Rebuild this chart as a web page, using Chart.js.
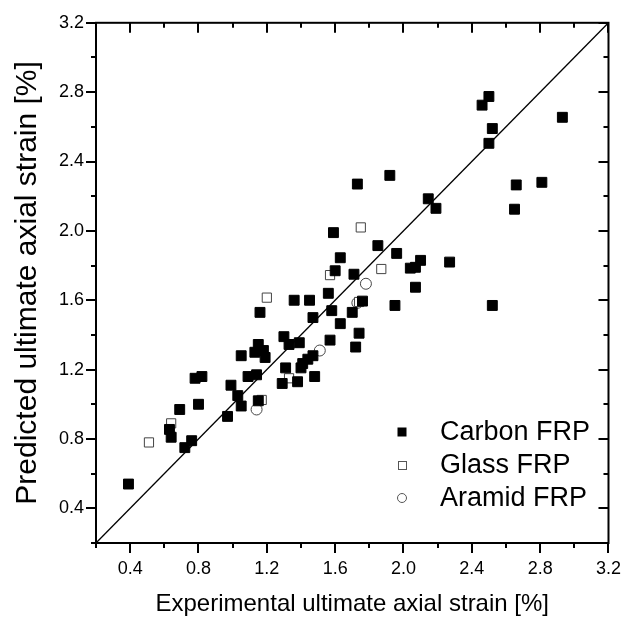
<!DOCTYPE html>
<html>
<head>
<meta charset="utf-8">
<script src="https://cdn.jsdelivr.net/npm/chart.js@4.4.1/dist/chart.umd.min.js"></script>
<style>
  html, body { margin: 0; padding: 0; background: #fff; }
</style>
</head>
<body>
<canvas id="strain-chart" width="636" height="626"></canvas>
<script>
// values (experimental vs predicted strain, %)
const carbonX = [0.39, 0.63, 0.64, 0.69, 0.72, 0.76, 0.78, 0.82, 0.80, 0.97,
                 0.99, 1.03, 1.05, 1.05, 1.09, 1.14, 1.15, 1.15, 1.13, 1.18,
                 1.19, 1.16, 1.30, 1.33, 1.39, 1.31, 1.29, 1.38, 1.36, 1.45,
                 1.47, 1.40, 1.41, 1.44, 1.47, 1.48, 1.56, 1.58, 1.63, 1.57,
                 1.70, 1.60, 1.71, 1.59, 1.63, 1.76, 1.95, 1.74, 1.72, 2.07,
                 2.52, 1.85, 1.96, 2.10, 2.07, 2.04, 2.27, 1.73, 1.92, 2.145,
                 2.19, 2.66, 2.81, 2.65, 2.50, 2.46, 2.52, 2.50, 2.93];
const carbonY = [0.54, 0.855, 0.81, 0.97, 0.75, 0.79, 1.15, 1.16, 1.00, 0.93,
                 1.11, 1.05, 0.99, 1.28, 1.16, 1.17, 1.02, 1.345, 1.30, 1.31,
                 1.27, 1.53, 1.39, 1.345, 1.355, 1.21, 1.12, 1.13, 1.60, 1.60,
                 1.50, 1.21, 1.235, 1.26, 1.28, 1.16, 1.64, 1.54, 1.465, 1.37,
                 1.53, 1.77, 1.75, 1.99, 1.845, 1.595, 1.57, 1.41, 1.33, 1.675,
                 1.57, 1.915, 1.87, 1.83, 1.79, 1.785, 1.82, 2.27, 2.32, 2.185,
                 2.13, 2.265, 2.28, 2.125, 2.775, 2.725, 2.59, 2.505, 2.655];

const glassX = [0.51, 0.64, 1.17, 1.20, 1.33, 1.57, 1.74, 1.87, 1.75];
const glassY = [0.78, 0.89, 1.025, 1.615, 1.15, 1.745, 1.59, 1.78, 2.02];

const aramidX = [1.14, 1.51, 1.78, 1.73];
const aramidY = [0.97, 1.31, 1.695, 1.585];

// line of equality
const diagX = [0.2, 3.2];
const diagY = [0.2, 3.2];

const axisMin = 0.2;
const axisMax = 3.2;
const tickStep = 0.2;
const tickLabels = ['0.4', '0.8', '1.2', '1.6', '2.0', '2.4', '2.8', '3.2'];

const seriesNames = ['Carbon FRP', 'Glass FRP', 'Aramid FRP'];

const fontFamily = 'Arial, "Liberation Sans", sans-serif';

function toPoints(xs, ys) {
    return xs.map((x, i) => ({ x: x, y: ys[i] }));
}

function tickLabel(value) {
    const s = Number(value).toFixed(1);
    return tickLabels.includes(s) ? s : '';
}

// box frame with ticks: outward on bottom/left, inward on top/right
const frameTicks = {
    id: 'frameTicks',
    afterDatasetsDraw(chart) {
        const { ctx, chartArea: a, scales } = chart;
        ctx.save();
        ctx.strokeStyle = '#000';
        ctx.lineWidth = 2;
        ctx.beginPath();
        scales.x.ticks.forEach(t => {
            const px = Math.round(scales.x.getPixelForValue(t.value));
            const len = tickLabel(t.value) ? 10 : 5;
            ctx.moveTo(px, a.bottom);
            ctx.lineTo(px, a.bottom + len);
            ctx.moveTo(px, a.top);
            ctx.lineTo(px, a.top + len);
        });
        scales.y.ticks.forEach(t => {
            const py = Math.round(scales.y.getPixelForValue(t.value));
            const len = tickLabel(t.value) ? 10 : 5;
            ctx.moveTo(a.left, py);
            ctx.lineTo(a.left - len, py);
            ctx.moveTo(a.right, py);
            ctx.lineTo(a.right - len, py);
        });
        ctx.stroke();
        ctx.strokeRect(a.left, a.top, a.right - a.left, a.bottom - a.top);
        ctx.restore();
    }
};

// legend inside the plot, bottom right
const innerLegend = {
    id: 'innerLegend',
    afterDraw(chart) {
        const ctx = chart.ctx;
        const mx = 402, tx = 440;
        const rows = [432, 465, 498];
        ctx.save();
        ctx.lineWidth = 1;
        ctx.fillStyle = '#000';
        ctx.fillRect(mx - 4.5, rows[0] - 4.5, 9, 9);
        ctx.strokeStyle = '#555';
        ctx.strokeRect(mx - 3.5, rows[1] - 3.5, 8, 8);
        ctx.beginPath();
        ctx.arc(mx, rows[2], 4.5, 0, Math.PI * 2);
        ctx.stroke();
        ctx.fillStyle = '#000';
        ctx.font = '27px ' + fontFamily;
        ctx.textBaseline = 'middle';
        seriesNames.forEach((name, i) => ctx.fillText(name, tx, rows[i] + 1));
        ctx.restore();
    }
};

const ctx = document.getElementById('strain-chart').getContext('2d');

const strainChart = new Chart(ctx, {
    type: 'scatter',
    data: {
        datasets: [{
            label: seriesNames[0],
            data: toPoints(carbonX, carbonY),
            pointStyle: 'rect',
            pointRadius: 7,
            backgroundColor: '#000',
            borderColor: '#000',
            borderWidth: 1
        }, {
            label: seriesNames[1],
            data: toPoints(glassX, glassY),
            pointStyle: 'rect',
            pointRadius: 6.5,
            backgroundColor: '#fff',
            borderColor: '#444',
            borderWidth: 1
        }, {
            label: seriesNames[2],
            data: toPoints(aramidX, aramidY),
            pointStyle: 'circle',
            pointRadius: 5.5,
            backgroundColor: 'rgba(255,255,255,0)',
            borderColor: '#444',
            borderWidth: 1
        }, {
            label: 'y = x',
            data: toPoints(diagX, diagY),
            showLine: true,
            pointRadius: 0,
            borderColor: '#000',
            borderWidth: 1.3
        }]
    },
    options: {
        responsive: false,
        animation: false,
        devicePixelRatio: 1,
        layout: { padding: { left: 0, right: 17, top: 18, bottom: 0 } },
        plugins: {
            legend: { display: false },
            tooltip: { enabled: false }
        },
        scales: {
            x: {
                type: 'linear',
                min: axisMin,
                max: axisMax,
                afterFit(scale) { scale.height = 83; },
                grid: { display: false, drawTicks: false },
                border: { display: false },
                ticks: {
                    stepSize: tickStep,
                    autoSkip: false,
                    maxRotation: 0,
                    padding: 15,
                    color: '#000',
                    font: { size: 18, family: fontFamily },
                    callback: value => tickLabel(value)
                },
                title: {
                    display: true,
                    text: 'Experimental ultimate axial strain [%]',
                    color: '#000',
                    font: { size: 24, family: fontFamily },
                    padding: { top: 0, bottom: 7 }
                }
            },
            y: {
                type: 'linear',
                min: axisMin,
                max: axisMax,
                afterFit(scale) { scale.width = 96; },
                grid: { display: false, drawTicks: false },
                border: { display: false },
                ticks: {
                    stepSize: tickStep,
                    autoSkip: false,
                    padding: 12,
                    color: '#000',
                    font: { size: 18, family: fontFamily },
                    callback: value => tickLabel(value)
                },
                title: {
                    display: true,
                    text: 'Predicted ultimate axial strain [%]',
                    color: '#000',
                    font: { size: 30, family: fontFamily },
                    padding: { top: 10, bottom: 0 }
                }
            }
        }
    },
    plugins: [frameTicks, innerLegend]
});
</script>
</body>
</html>
